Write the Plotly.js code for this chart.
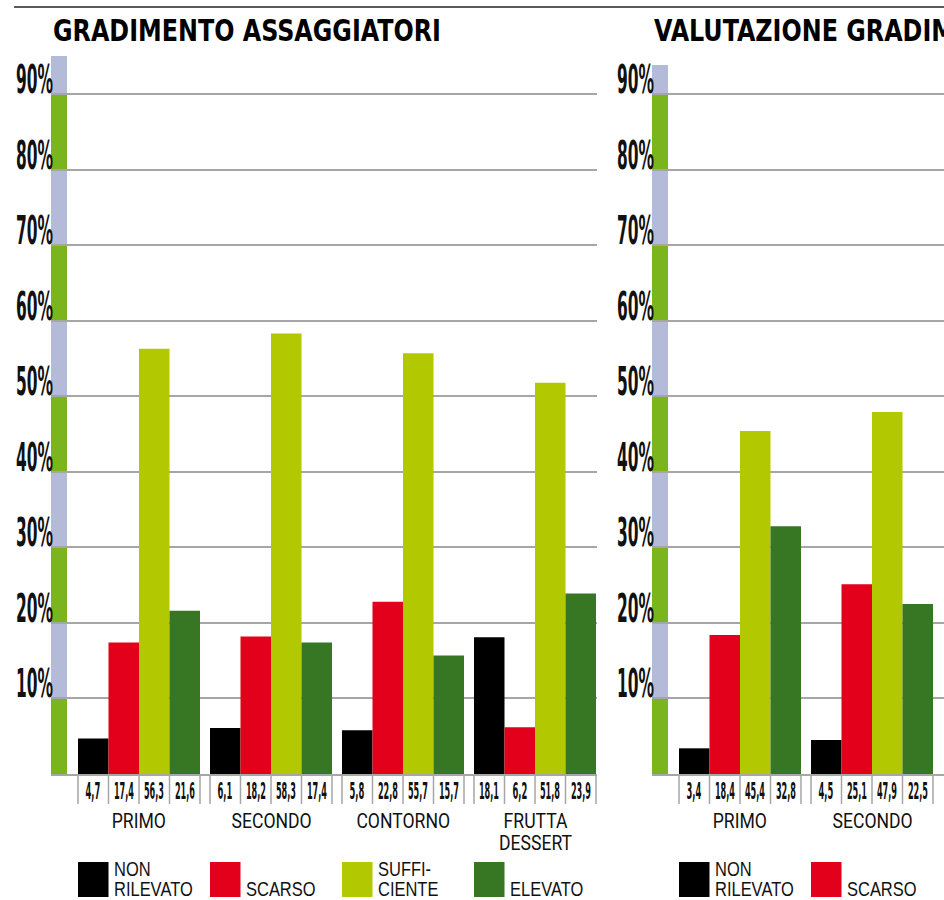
<!DOCTYPE html>
<html><head><meta charset="utf-8">
<script src="https://cdn.plot.ly/plotly-3.0.1.min.js"></script>
<style>html,body{margin:0;padding:0;background:#fff;overflow:hidden}#chart{width:944px;height:900px}</style>
</head><body><div id="chart"></div>
<script>
// ---------- data ----------
const seriesNames = ['NON RILEVATO', 'SCARSO', 'SUFFICIENTE', 'ELEVATO'];
const legendLabels = ['NON<br>RILEVATO', 'SCARSO', 'SUFFI-<br>CIENTE', 'ELEVATO'];
const seriesColors = ['#000000', '#e2001a', '#b2c800', '#377622'];

const title1 = 'GRADIMENTO ASSAGGIATORI';
const categories1 = ['PRIMO', 'SECONDO', 'CONTORNO', 'FRUTTA<br>DESSERT'];
const nonRilevato1 = [4.7, 6.1, 5.8, 18.1];
const scarso1 = [17.4, 18.2, 22.8, 6.2];
const sufficiente1 = [56.3, 58.3, 55.7, 51.8];
const elevato1 = [21.6, 17.4, 15.7, 23.9];

const title2 = 'VALUTAZIONE GRADIMENTO';
const categories2 = ['PRIMO', 'SECONDO'];
const nonRilevato2 = [3.4, 4.5];
const scarso2 = [18.4, 25.1];
const sufficiente2 = [45.4, 47.9];
const elevato2 = [32.8, 22.5];

const yTickValues = [10, 20, 30, 40, 50, 60, 70, 80, 90];
const yTickLabels = ['10%', '20%', '30%', '40%', '50%', '60%', '70%', '80%', '90%'];

// ---------- layout helpers ----------
const W = 944, H = 900;
const py = y => (H - y) / H;
const STEP = 132;            // px per category
const BASE_Y = 774;          // px of 0%
const PX_PER_UNIT = 7.555;   // px per 1%
const BARGAP = 0.0758;
const barW = (1 - BARGAP) / 4;
const NARROW = "'Liberation Sans Narrow', 'DejaVu Sans Condensed', 'Arial Narrow', sans-serif";
const SANS = "Roboto, 'Liberation Sans', sans-serif";
const LEGSANS = "'Liberation Sans', Arial, sans-serif";
const stripeGreen = '#7ab51d', stripeBlue = '#b3bbd9', gridGray = '#a6a6a6';

const panels = [
  {title: title1, cats: categories1, series: [nonRilevato1, scarso1, sufficiente1, elevato1],
   left: 51, right: 597, center0: 139, top: 56, xa: 'x', ya: 'y', xk: 'xaxis', yk: 'yaxis'},
  {title: title2, cats: categories2, series: [nonRilevato2, scarso2, sufficiente2, elevato2],
   left: 652, right: 944, center0: 740, top: 65, xa: 'x2', ya: 'y2', xk: 'xaxis2', yk: 'yaxis2'}
];

const traces = [], shapes = [], annotations = [], fixes = [];
// fixes entry: {factor} or {width} (target px width) or {title:true}; optional lineGap (px)
function addAnn(a, s) { annotations.push(Object.assign({showarrow: false, borderpad: 0, borderwidth: 0}, a)); fixes.push(s || null); }

const layout = {
  width: W, height: H, margin: {l: 0, r: 0, t: 0, b: 0},
  paper_bgcolor: '#fff', plot_bgcolor: 'rgba(0,0,0,0)',
  barmode: 'group', bargap: BARGAP, bargroupgap: 0, showlegend: false,
  shapes: shapes, annotations: annotations
};

// top rule
shapes.push({type: 'line', xref: 'paper', yref: 'paper', x0: 14 / W, x1: 1, y0: py(7), y1: py(7), line: {color: '#5a5a5a', width: 2}});

const CAT_FS = 20, LEG_FS = 19.5;

panels.forEach((p) => {
  const xr = [(p.left - p.center0) / STEP, (p.right - p.center0) / STEP];
  const yr = [0, (BASE_Y - p.top) / PX_PER_UNIT];
  layout[p.xk] = {domain: [p.left / W, p.right / W], range: xr, type: 'linear', anchor: p.ya,
    showgrid: false, zeroline: false, showticklabels: false, ticks: '',
    showline: true, linecolor: gridGray, linewidth: 2, fixedrange: true};
  layout[p.yk] = {domain: [py(BASE_Y), py(p.top)], range: yr, anchor: p.xa,
    showgrid: true, gridcolor: gridGray, gridwidth: 2, tick0: 0, dtick: 10,
    zeroline: false, showticklabels: false, ticks: '', fixedrange: true};

  const xs = p.cats.map((c, i) => i);
  p.series.forEach((vals, k) => {
    traces.push({type: 'bar', x: xs, y: vals, xaxis: p.xa, yaxis: p.ya, name: seriesNames[k],
      marker: {color: seriesColors[k], line: {width: 0}}, hoverinfo: 'skip'});
  });

  // side stripe
  for (let b = 0; b < 10; b++) {
    shapes.push({type: 'rect', xref: p.xa, yref: p.ya, layer: 'below',
      x0: xr[0], x1: xr[0] + 16 / STEP, y0: b * 10, y1: (b + 1) * 10,
      fillcolor: b % 2 === 0 ? stripeGreen : stripeBlue, line: {width: 0}});
  }

  // y tick labels
  yTickValues.forEach((v, i) => {
    addAnn({xref: 'paper', yref: p.ya, x: (p.left + 1.5) / W, y: v, xanchor: 'right', align: 'right',
      yanchor: 'middle', yshift: 14.5, text: yTickLabels[i],
      font: {family: NARROW, size: 39, weight: 'bold', color: '#111'}}, {width: 37});
  });

  // value table + category labels
  p.cats.forEach((c, i) => {
    for (let k = 0; k <= 4; k++) {
      const xe = i + (k - 2) * barW;
      shapes.push({type: 'line', xref: p.xa, yref: 'paper', x0: xe, x1: xe, y0: py(BASE_Y), y1: py(804),
        line: {color: gridGray, width: 1.5}});
    }
    p.series.forEach((vals, k) => {
      const txt = vals[i].toFixed(1).replace('.', ',');
      const nd = txt.replace(',', '').length;
      addAnn({xref: p.xa, yref: 'paper', x: i + (k - 1.5) * barW, y: py(791), xanchor: 'center',
        yanchor: 'middle', text: txt,
        font: {family: NARROW, size: 22.5, weight: 'bold', color: '#111'}}, {width: 5.2 * nd + 4.5});
    });
    // category label (first line cap centre at 820.5, 22px line gap)
    addAnn({xref: p.xa, yref: 'paper', x: i, y: py(820.5 - 0.6 * CAT_FS), xanchor: 'center', yanchor: 'top',
      text: c, font: {family: SANS, size: CAT_FS, color: '#111'}}, {factor: 0.88, lineGap: 22});
  });

  // legend (aligned with the first bar of each group)
  p.cats.forEach((c, i) => {
    const x0 = i - 2 * barW, x1 = i - barW;
    shapes.push({type: 'rect', xref: p.xa, yref: 'paper', x0: x0, x1: x1, y0: py(897), y1: py(862),
      fillcolor: seriesColors[i], line: {width: 0}});
    const nLines = legendLabels[i].split('<br>').length;
    const firstCap = nLines === 2 ? 868.5 : 888.5;
    addAnn({xref: p.xa, yref: 'paper', x: x1 + 5 / STEP, y: py(firstCap - 0.547 * LEG_FS), xanchor: 'left', align: 'left',
      yanchor: 'top', text: legendLabels[i], font: {family: LEGSANS, size: LEG_FS, color: '#111'}}, {factor: 0.845, lineGap: 20});
  });

  // panel title
  addAnn({xref: 'paper', yref: 'paper', x: (p.left + 2) / W, y: py(30), xanchor: 'left', align: 'left',
    yanchor: 'middle', text: p.title, font: {family: NARROW, size: 31, weight: 'bold', color: '#000'}}, {title: true});
});

Plotly.newPlot('chart', traces, layout, {staticPlot: true, displayModeBar: false}).then(gd => {
  const groups = Array.from(gd.querySelectorAll('g.annotation'));
  const getText = g => g.querySelector('text.annotation-text');
  let titleFactor = null;
  groups.forEach(g => {
    const s = fixes[+g.getAttribute('data-index')];
    if (s && s.title && titleFactor === null) titleFactor = 388 / getText(g).getComputedTextLength();
  });
  groups.forEach(g => {
    const idx = +g.getAttribute('data-index');
    const s = fixes[idx];
    if (!s) return;
    const t = getText(g);
    if (!t) return;
    // tighter line spacing for multi-line labels
    const lines = Array.from(t.querySelectorAll('tspan.line'));
    if (s.lineGap && lines.length > 1) {
      const fs = annotations[idx].font.size;
      const dy0 = parseFloat(lines[0].getAttribute('dy') || '0') * fs;
      lines.forEach((ln, li) => ln.setAttribute('dy', (dy0 + li * s.lineGap).toFixed(2)));
    }
    let w;
    if (lines.length > 1) w = Math.max.apply(null, lines.map(l => l.getComputedTextLength()));
    else w = t.getComputedTextLength();
    let f = s.title ? titleFactor : (s.width ? s.width / w : s.factor);
    f = Math.min(f, 1.2);
    const ax = parseFloat(t.getAttribute('x')) || 0;
    const tr = 'translate(' + ax + ',0) scale(' + f.toFixed(4) + ',1) translate(' + (-ax) + ',0)';
    t.setAttribute('transform', tr);
    const bg = g.querySelector('rect.bg');
    if (bg) bg.setAttribute('transform', tr);
  });
});
</script>
</body></html>
